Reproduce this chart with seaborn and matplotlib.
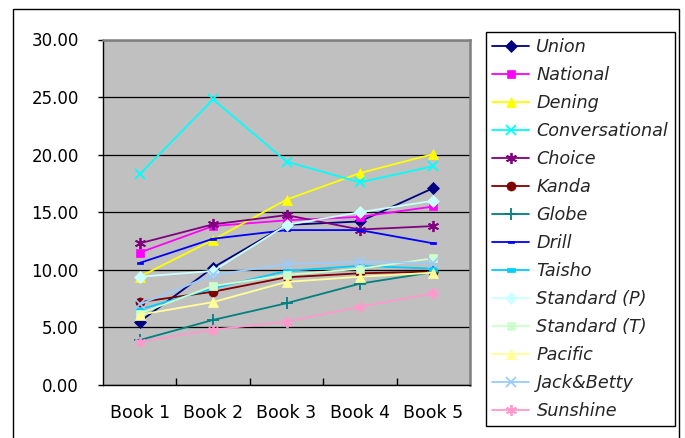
import matplotlib
matplotlib.use("Agg")
import matplotlib.pyplot as plt
from matplotlib.patches import Rectangle
from matplotlib.path import Path
import seaborn as sns
import pandas as pd

books = ["Book 1", "Book 2", "Book 3", "Book 4", "Book 5"]
y_ticks = [0, 5, 10, 15, 20, 25, 30]
y_tick_labels = ["0.00", "5.00", "10.00", "15.00", "20.00", "25.00", "30.00"]

union = [5.5, 10.2, 13.9, 14.2, 17.1]
national = [11.5, 13.8, 14.3, 14.6, 15.5]
dening = [9.4, 12.6, 16.1, 18.4, 20.05]
conversational = [18.3, 24.8, 19.4, 17.6, 19.0]
choice = [12.3, 13.95, 14.75, 13.5, 13.8]
kanda = [7.2, 8.1, 9.35, 9.7, 9.85]
globe = [3.9, 5.65, 7.1, 8.8, 9.8]
drill = [10.6, 12.7, 13.45, 13.45, 12.3]
taisho = [6.55, 8.4, 9.9, 10.35, 10.1]
standard_p = [9.4, 9.9, 13.9, 15.0, 16.0]
standard_t = [6.2, 8.6, 9.55, 10.1, 11.0]
pacific = [6.1, 7.2, 8.95, 9.4, 9.75]
jack_betty = [7.0, 9.55, 10.5, 10.7, 10.6]
sunshine = [3.75, 4.8, 5.5, 6.8, 7.95]

series_names = ["Union", "National", "Dening", "Conversational", "Choice", "Kanda",
                "Globe", "Drill", "Taisho", "Standard (P)", "Standard (T)", "Pacific",
                "Jack&Betty", "Sunshine"]
series_values = [union, national, dening, conversational, choice, kanda, globe, drill,
                 taisho, standard_p, standard_t, pacific, jack_betty, sunshine]

colors = ["#000080", "#FF00FF", "#FFFF00", "#00FFFF", "#800080", "#800000", "#008080",
          "#0000FF", "#00CCFF", "#CCFFFF", "#CCFFCC", "#FFFF99", "#99CCFF", "#FF99CC"]

asterisk = (6, 2, 0)
small_bar = Path([(-1, -0.45), (1, -0.45), (1, 0.45), (-1, 0.45), (-1, -0.45)],
                 [Path.MOVETO, Path.LINETO, Path.LINETO, Path.LINETO, Path.CLOSEPOLY])
markers = ["D", "s", "^", "x", asterisk, "o", "+", small_bar, small_bar, "D", "s", "^", "x", asterisk]
msizes = [6, 6, 7.5, 7.5, 8, 6.5, 8, 4.5, 6, 6, 6, 7.5, 7.5, 8]

rows = []
for name, vals in zip(series_names, series_values):
    for b, v in zip(books, vals):
        rows.append({"series": name, "book": b, "value": v})
df = pd.DataFrame(rows)

sns.set_style("white")
plt.rcParams["font.family"] = ["DejaVu Sans"]

fig = plt.figure(figsize=(6.85, 4.38), dpi=100)
ax = fig.add_axes([103 / 685, 1 - 385 / 438, 367 / 685, 345.5 / 438])
ax.set_facecolor("#C0C0C0")

for name, col, mk, ms in zip(series_names, colors, markers, msizes):
    sub = df[df["series"] == name]
    line_art = mk in ("x", "+", asterisk)
    sns.lineplot(data=sub, x="book", y="value", ax=ax, color=col, marker=mk,
                 markersize=ms, linewidth=1.3, label=name, sort=False,
                 markeredgecolor=col, markerfacecolor=col,
                 markeredgewidth=1.3 if line_art else 0.5)

ax.set_xlim(-0.5, 4.5)
ax.set_ylim(0, 30)
ax.set_yticks(y_ticks)
ax.set_yticklabels(y_tick_labels)
ax.set_xlabel("")
ax.set_ylabel("")
ax.yaxis.grid(True, color="black", linewidth=0.9)
ax.set_axisbelow(True)

ax.set_xticks([0.5, 1.5, 2.5, 3.5], minor=False)
ax.set_xticklabels([])
ax.set_xticks([0, 1, 2, 3, 4], minor=True)
ax.set_xticklabels(books, minor=True)
ax.tick_params(axis="x", which="major", direction="in", length=5, width=1, color="black", bottom=True)
ax.tick_params(axis="x", which="minor", length=0, pad=14, labelsize=12.5, labelcolor="black")
ax.tick_params(axis="y", direction="out", length=3.5, width=1, color="black", pad=14,
               labelsize=12, labelcolor="black", left=True)

for s in ["left", "bottom"]:
    ax.spines[s].set_color("black")
    ax.spines[s].set_linewidth(1.0)
for s in ["top", "right"]:
    ax.spines[s].set_color("#808080")
    ax.spines[s].set_linewidth(1.8)

leg = ax.legend(loc="upper left", bbox_to_anchor=(486 / 685, 1 - 32 / 438),
                bbox_transform=fig.transFigure, borderaxespad=0, frameon=True,
                fancybox=False, edgecolor="black", framealpha=1,
                prop={"style": "italic", "size": 12.7}, handlelength=2.1,
                handletextpad=0.4, borderpad=0.36, labelspacing=0.565)
leg.get_frame().set_linewidth(1.0)

fig.patches.append(Rectangle((13 / 685, -0.05), (679 - 13) / 685, 1.05 - 9 / 438,
                             transform=fig.transFigure, fill=False, edgecolor="black",
                             linewidth=1.0))

fig.savefig("out.png", dpi=100)
